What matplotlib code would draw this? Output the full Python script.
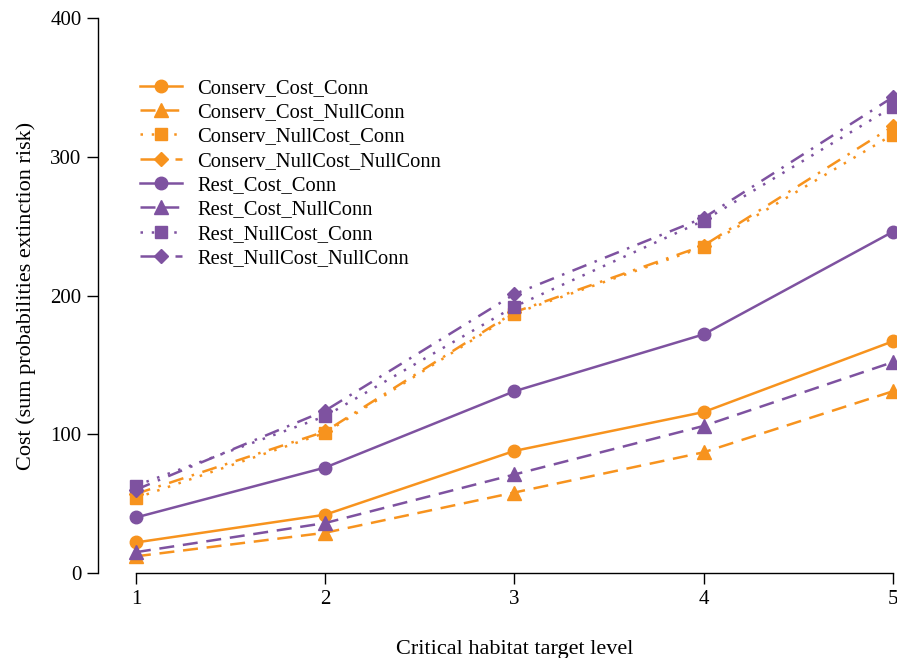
import matplotlib
matplotlib.use("Agg")
from matplotlib import pyplot as plt

plt.rcParams['font.family'] = ['Liberation Serif', 'DejaVu Serif']

levels = [1, 2, 3, 4, 5]

conserv_cost_conn = [22, 42, 88, 116, 167]
conserv_cost_nullconn = [12, 29, 58, 87, 131]
conserv_nullcost_conn = [54, 101, 187, 235, 316]
conserv_nullcost_nullconn = [57, 102, 188, 236, 322]
rest_cost_conn = [40, 76, 131, 172, 246]
rest_cost_nullconn = [15, 36, 71, 106, 152]
rest_nullcost_conn = [63, 113, 192, 254, 336]
rest_nullcost_nullconn = [60, 117, 201, 256, 343]

orange = '#F7931E'
purple = '#7E52A0'

dashed = (0, (6, 3.5))
dotted = (0, (1, 3.5))
dashdot = (0, (6, 3.5, 1, 3.5))

series = [
    ('Conserv_Cost_Conn', conserv_cost_conn, orange, '-', 'o'),
    ('Conserv_Cost_NullConn', conserv_cost_nullconn, orange, dashed, '^'),
    ('Conserv_NullCost_Conn', conserv_nullcost_conn, orange, dotted, 's'),
    ('Conserv_NullCost_NullConn', conserv_nullcost_nullconn, orange, dashdot, 'D'),
    ('Rest_Cost_Conn', rest_cost_conn, purple, '-', 'o'),
    ('Rest_Cost_NullConn', rest_cost_nullconn, purple, dashed, '^'),
    ('Rest_NullCost_Conn', rest_nullcost_conn, purple, dotted, 's'),
    ('Rest_NullCost_NullConn', rest_nullcost_nullconn, purple, dashdot, 'D'),
]

fig = plt.figure(figsize=(8.97, 6.58), dpi=100)
ax = fig.add_axes([0.1093, 0.1292, 0.8862, 0.8434])

for name, vals, col, ls, mk in series:
    ms = 9
    if mk == 'D':
        ms = 7.5
    if mk == '^':
        ms = 10
    ax.plot(levels, vals, color=col, linestyle=ls, marker=mk, markersize=ms,
            linewidth=1.8, label=name, clip_on=False, zorder=3)

ax.set_xlim(0.8, 5.0)
ax.set_ylim(0, 400)
ax.set_xticks(levels)
ax.set_yticks([0, 100, 200, 300, 400])
ax.spines['top'].set_visible(False)
ax.spines['right'].set_visible(False)
ax.spines['bottom'].set_bounds(1, 5)
ax.spines['left'].set_bounds(0, 400)
for s in ['left', 'bottom']:
    ax.spines[s].set_linewidth(1.0)
ax.tick_params(direction='out', length=8, width=1.0, labelsize=15, pad=4)

ax.set_xlabel('Critical habitat target level', fontsize=16)
ax.xaxis.set_label_coords(0.5245, -0.121)
ax.set_ylabel('Cost (sum probabilities extinction risk)', fontsize=16, labelpad=10)

ax.legend(loc='upper left', bbox_to_anchor=(0.043, 0.906), frameon=False,
          fontsize=14.8, handlelength=2.0, labelspacing=0.24, handletextpad=0.75,
          borderaxespad=0)

fig.savefig('out.png', dpi=100)
